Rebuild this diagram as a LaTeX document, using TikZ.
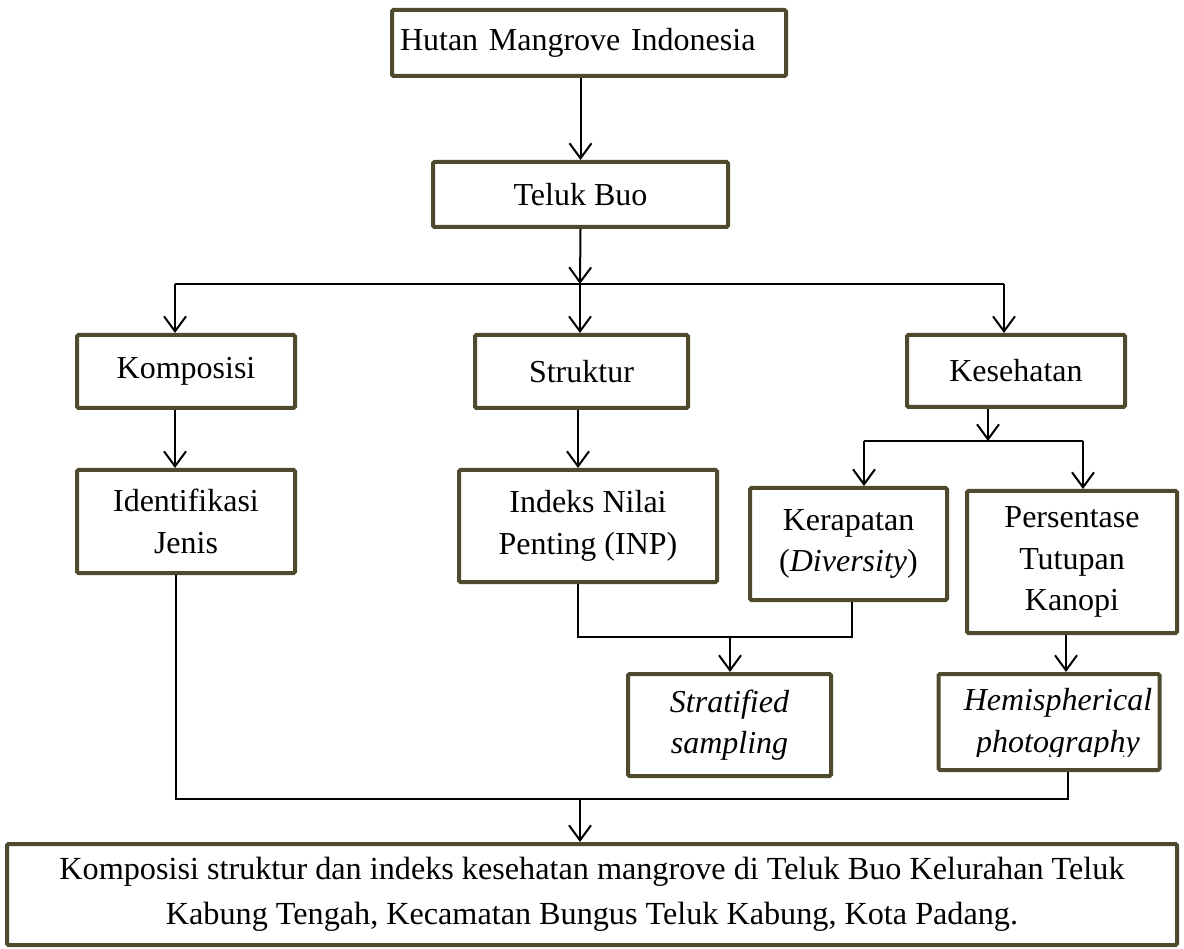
\documentclass[tikz,border=0pt]{standalone}
\usepackage{fontspec}
\setmainfont{Liberation Serif}
\usetikzlibrary{arrows.meta}
\definecolor{boxcol}{RGB}{79,73,46}
\newcommand{\mainfs}{\fontsize{32}{41.5}\selectfont}
\newcommand{\finalfs}{\fontsize{32.2}{45}\selectfont}
\begin{document}
\begin{tikzpicture}[x=1pt,y=-1pt,
  box/.style={draw=boxcol, line width=4pt, rounded corners=1.5pt, fill=white, align=center, inner sep=0pt, font=\mainfs},
  txt/.style={align=center, inner sep=0pt, font=\mainfs},
  arr/.style={-{Straight Barb[length=15pt,width=22pt]}, line width=2pt},
  ln/.style={line width=2pt}]
\useasboundingbox[fill=white] (0,0) rectangle (1184,949);
% boxes
\node[box, text width=378pt, align=left, inner xsep=8pt, minimum height=66pt] (h1) at (589,43) {Hutan Mangrove Indonesia};
\node[box, minimum width=295pt, minimum height=65pt] (tb) at (580.5,194.5) {Teluk Buo};
\node[box, minimum width=218pt, minimum height=73pt] (komp) at (186,371.5) {Komposisi};
\node[box, minimum width=213pt, minimum height=73pt] (str) at (581.5,371.5) {Struktur};
\node[box, minimum width=218pt, minimum height=72pt] (kes) at (1016,371) {Kesehatan};
\node[box, minimum width=218pt, minimum height=103pt] (iden) at (186,521.5) {Identifikasi\\Jenis};
\node[box, minimum width=258pt, minimum height=112pt] (inp) at (588,526) {Indeks Nilai\\Penting (INP)};
\node[box, minimum width=197pt, minimum height=112pt] (ker) at (848.5,544) {Kerapatan\\(\textit{Diversity})};
\node[box, minimum width=210pt, minimum height=142pt] (per) at (1072,562) {Persentase\\Tutupan\\Kanopi};
\node[box, minimum width=203pt, minimum height=102pt] (strat) at (729.5,725) {\textit{Stratified}\\\textit{sampling}};
\node[box, minimum width=221pt, minimum height=96pt] (hemi) at (1049,722) {};
\begin{scope}
  \clip (939,674) rectangle (1160,756);
  \node[txt] (hemit) at (1058,724) {\textit{Hemispherical}\\\textit{photography}};
\end{scope}
\node[box, minimum width=1170pt, minimum height=101pt, font=\finalfs] (fin) at (592,894.5) {Komposisi struktur dan indeks kesehatan mangrove di Teluk Buo Kelurahan Teluk\\Kabung Tengah, Kecamatan Bungus Teluk Kabung, Kota Padang.};
% junction coordinates
\coordinate (j1) at (580,284);
\coordinate (a1) at (175,284);
\coordinate (a3) at (1004,284);
\coordinate (k0) at (988,441);
\coordinate (kl) at (864,441);
\coordinate (kr) at (1083,441);
\coordinate (c1) at (578,637);
\coordinate (c2) at (852,637);
\coordinate (c3) at (730,637);
\coordinate (px) at (1066,0);
\coordinate (b1) at (176,799);
\coordinate (b2) at (1068,799);
\coordinate (b0) at (580,799);
% connectors
\draw[arr] (tb.north |- h1.south) -- (tb.north);
\draw[arr] (tb.south) -- (j1);
\draw[ln] (a1) -- (a3);
\draw[arr] (a1) -- (a1 |- komp.north);
\draw[arr] (j1) -- (j1 |- str.north);
\draw[arr] (a3) -- (a3 |- kes.north);
\draw[arr] (a1 |- komp.south) -- (a1 |- iden.north);
\draw[arr] (c1 |- str.south) -- (c1 |- inp.north);
\draw[arr] (k0 |- kes.south) -- (k0);
\draw[ln] (kl) -- (kr);
\draw[arr] (kl) -- (kl |- ker.north);
\draw[arr] (kr) -- (kr |- per.north);
\draw[ln] (c1 |- inp.south) -- (c1) -- (c2) -- (c2 |- ker.south);
\draw[arr] (c3) -- (c3 |- strat.north);
\draw[arr] (px |- per.south) -- (px |- hemi.north);
\draw[ln] (b1 |- iden.south) -- (b1) -- (b2) -- (b2 |- hemi.south);
\draw[arr] (b0) -- (b0 |- fin.north);
\end{tikzpicture}
\end{document}
